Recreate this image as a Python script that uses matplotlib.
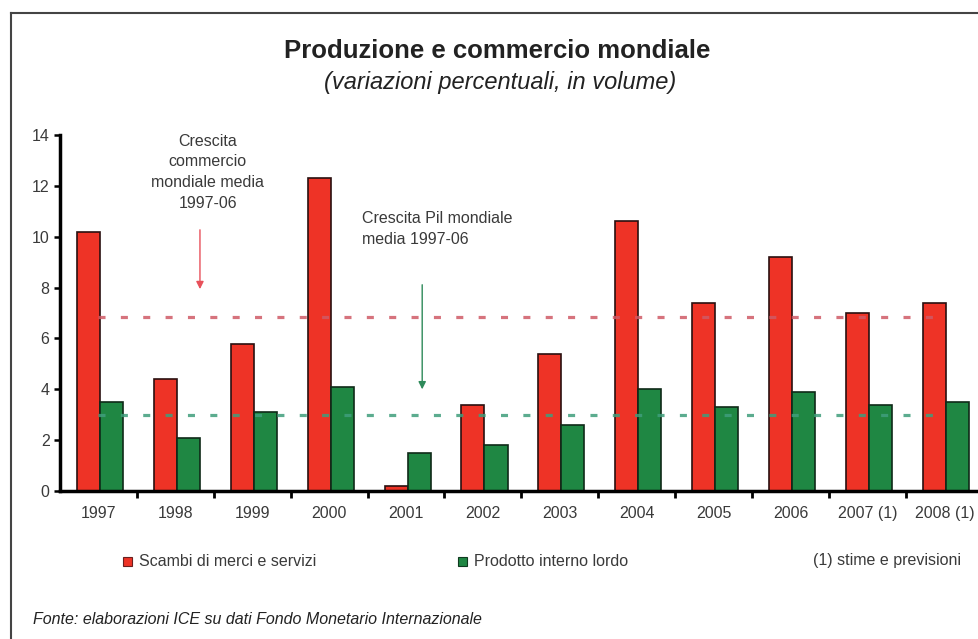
import matplotlib
matplotlib.use("Agg")
import matplotlib.pyplot as plt
from matplotlib.patches import Rectangle
from matplotlib.lines import Line2D
import numpy as np

plt.rcParams['font.family'] = ['Liberation Sans', 'DejaVu Sans']

years = ["1997", "1998", "1999", "2000", "2001", "2002", "2003",
         "2004", "2005", "2006", "2007 (1)", "2008 (1)"]
trade = [10.2, 4.4, 5.8, 12.3, 0.2, 3.4, 5.4, 10.6, 7.4, 9.2, 7.0, 7.4]
gdp = [3.5, 2.1, 3.1, 4.1, 1.5, 1.8, 2.6, 4.0, 3.3, 3.9, 3.4, 3.5]
trade_avg = 6.85
gdp_avg = 3.0

RED = "#ee3326"
GREEN = "#1f8743"
RED_LINE = "#cf5a66"
GREEN_LINE = "#3f9e7c"
GRAY = "#3a3a3a"

W, H = 979, 639
fig = plt.figure(figsize=(W / 100, H / 100), dpi=100)
fig.patch.set_facecolor("white")

# axes placed in pixel units: left spine at x=60, y=0 at 491, y=14 at 135
ax = fig.add_axes([60 / W, (H - 491) / H, 1 - 60 / W, 356 / H])

x = np.arange(len(years))
bw = 0.3
off = 0.02
ax.bar(x - bw / 2 + off, trade, bw, color=RED, edgecolor="#2a1010",
       linewidth=1.2, zorder=2)
ax.bar(x + bw / 2 + off, gdp, bw, color=GREEN, edgecolor="#0f2a18",
       linewidth=1.2, zorder=2)

# average lines
ax.plot([0, 10.85], [trade_avg, trade_avg], color=RED_LINE, lw=2.3,
        linestyle=(0, (2.2, 4.8)), alpha=0.85, zorder=3)
ax.plot([0, 10.85], [gdp_avg, gdp_avg], color=GREEN_LINE, lw=2.3,
        linestyle=(0, (2.2, 4.8)), alpha=0.85, zorder=3)

# annotations
ax.annotate("", xy=(1.32, 7.83), xytext=(1.32, 10.38),
            arrowprops=dict(arrowstyle="-|>", color="#e8505a", lw=1.0,
                            mutation_scale=11))
ax.text(1.42, 14.05, "Crescita\ncommercio\nmondiale media\n1997-06",
        ha="center", va="top", fontsize=11.5, color=GRAY, linespacing=1.47)
ax.annotate("", xy=(4.21, 3.89), xytext=(4.21, 8.22),
            arrowprops=dict(arrowstyle="-|>", color="#2e8a5a", lw=1.0,
                            mutation_scale=11))
ax.text(3.43, 11.0, "Crescita Pil mondiale\nmedia 1997-06",
        ha="left", va="top", fontsize=11.5, color=GRAY, linespacing=1.47)

ax.set_xlim(-0.5, -0.5 + (W - 60) / 76.9)
ax.set_ylim(0, 14)
ax.set_yticks(np.arange(0, 15, 2))
ax.set_xticks(x)
ax.set_xticklabels(years)
ax.set_xticks(x[:-1] + 0.5, minor=True)
ax.tick_params(axis="x", which="major", length=0, pad=11, labelsize=11.5,
               labelcolor=GRAY)
ax.tick_params(axis="x", which="minor", length=5, width=2, direction="out",
               color="black")
ax.tick_params(axis="y", length=4.5, width=1.8, direction="out", pad=3,
               labelsize=11.5, labelcolor=GRAY)
for s in ["top", "right"]:
    ax.spines[s].set_visible(False)
ax.spines["left"].set_linewidth(2.5)
ax.spines["bottom"].set_linewidth(2.5)
ax.set_facecolor("none")

# titles
fig.text(497 / W, 1 - 51 / H, "Produzione e commercio mondiale",
         ha="center", va="center", fontsize=18.5, fontweight="bold",
         color="#222222")
fig.text(500 / W, 1 - 83 / H, "(variazioni percentuali, in volume)",
         ha="center", va="center", fontsize=17, style="italic",
         color="#222222")

# legend row
ly = 1 - 561 / H
sq = 9
fig.add_artist(Rectangle((123 / W, ly - sq / 2 / H), sq / W, sq / H,
                         transform=fig.transFigure, facecolor=RED,
                         edgecolor="#6a2020", lw=0.8))
fig.text(139 / W, ly, "Scambi di merci e servizi", ha="left", va="center",
         fontsize=11.5, color=GRAY)
fig.add_artist(Rectangle((458 / W, ly - sq / 2 / H), sq / W, sq / H,
                         transform=fig.transFigure, facecolor=GREEN,
                         edgecolor="#103a20", lw=0.8))
fig.text(474 / W, ly, "Prodotto interno lordo", ha="left", va="center",
         fontsize=11.5, color=GRAY)
fig.text(813 / W, ly, "(1) stime e previsioni", ha="left", va="center",
         fontsize=11.5, color=GRAY)

fig.text(33 / W, 1 - 619 / H,
         "Fonte: elaborazioni ICE su dati Fondo Monetario Internazionale",
         ha="left", va="center", fontsize=11.5, style="italic",
         color="#222222")

# outer frame (left and top edges visible)
fig.add_artist(Line2D([11 / W, 11 / W], [0, 1 - 13 / H],
                      transform=fig.transFigure, color="#444444", lw=1.5))
fig.add_artist(Line2D([11 / W, 1], [1 - 13 / H, 1 - 13 / H],
                      transform=fig.transFigure, color="#444444", lw=1.5))

fig.savefig("out.png", dpi=100)
